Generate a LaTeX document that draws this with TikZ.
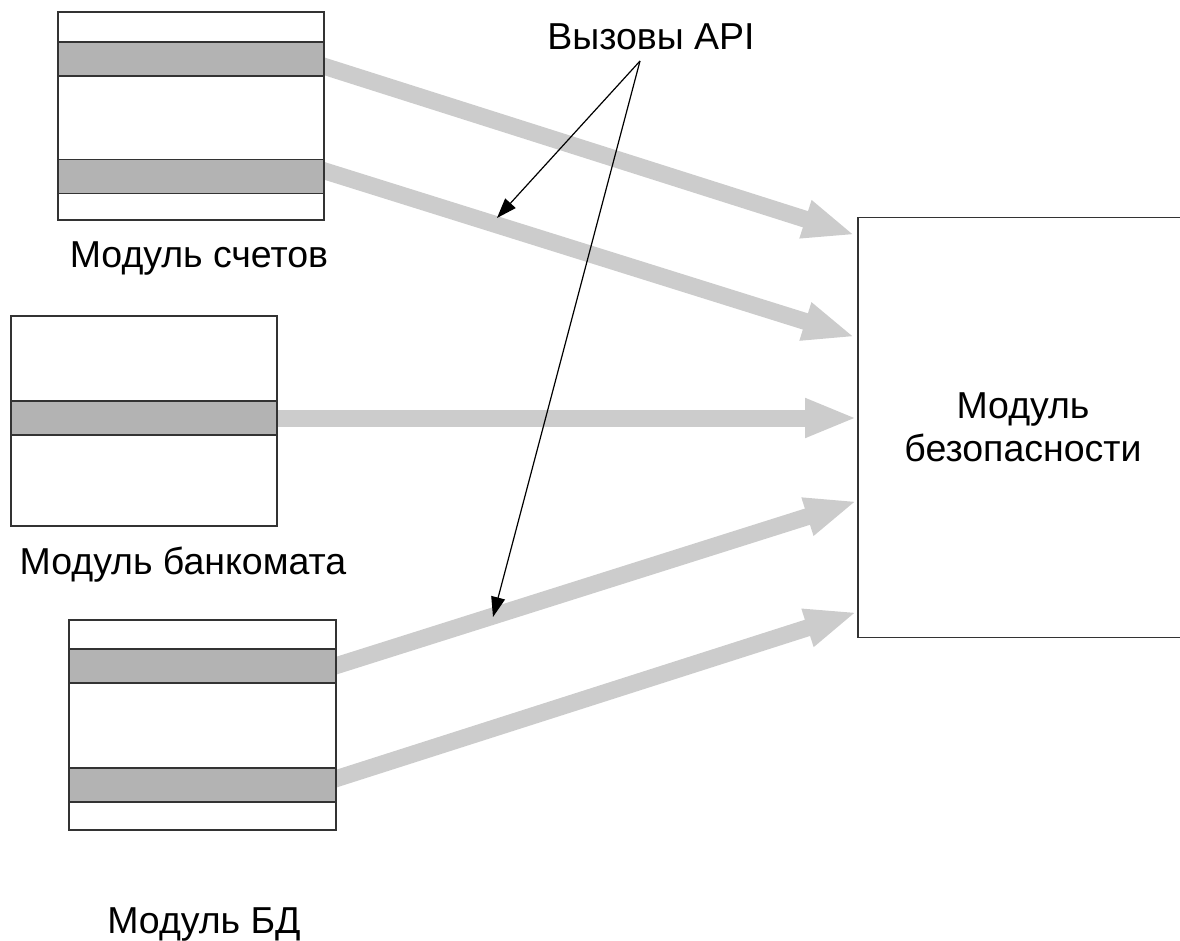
\documentclass[tikz,border=0pt]{standalone}
\usepackage{fontspec}
\setmainfont{Liberation Sans}
\usetikzlibrary{arrows.meta,calc}
\pgfdeclarelayer{background}
\pgfsetlayers{background,main}
\definecolor{boxline}{HTML}{333333}
\definecolor{bandfill}{HTML}{B3B3B3}
\definecolor{flowgray}{HTML}{CCCCCC}
\tikzset{
  modbox/.style={draw=boxline, line width=1.5pt, fill=white, inner sep=0pt, outer sep=0pt},
  band/.style={draw=boxline, line width=1.5pt, fill=bandfill, inner sep=0pt, outer sep=0pt,
    minimum height=34pt},
  caption/.style={anchor=base, inner sep=0pt, font=\fontsize{37.5}{44}\selectfont},
  flow/.style={draw=flowgray, line width=17pt,
    -{Triangle[length=52pt,width=36pt,fill=flowgray]}},
  callout/.style={draw=black, line width=1.2pt,
    -{Triangle[length=20pt,width=14pt]}}
}
\begin{document}
\begin{tikzpicture}[x=1pt,y=-1pt]
\useasboundingbox (0,0) rectangle (1180,941);
\clip (0,0) rectangle (1180,941);

% account module
\node[modbox, minimum width=266pt, minimum height=208pt] (acc) at (191,116) {};
\node[band, minimum width=266pt] (acc1) at (191,59) {};
\node[band, minimum width=266pt] (acc2) at (191,176.5) {};
\node[caption] (acclbl) at (199,268) {Модуль счетов};

% ATM module
\node[modbox, minimum width=266pt, minimum height=210pt] (atm) at (144,421) {};
\node[band, minimum width=266pt] (atm1) at (144,418) {};
\node[caption] (atmlbl) at (183,574) {Модуль банкомата};

% database module
\node[modbox, minimum width=267pt, minimum height=210pt] (db) at (202.5,725) {};
\node[band, minimum width=267pt] (db1) at (202.5,666) {};
\node[band, minimum width=267pt] (db2) at (202.5,785) {};
\node[caption] (dblbl) at (204,933) {Модуль БД};

% security module
\node[draw=boxline, line width=1.5pt, minimum width=330pt, minimum height=420pt,
  align=center, font=\fontsize{37.5}{43}\selectfont] (sec) at (1023,427.5)
  {Модуль\\безопасности};

% flow targets on the security module
\coordinate (t1) at (855,235);
\coordinate (t2) at (855,337);
\coordinate (t3) at (857,418);
\coordinate (t4) at (857,501);
\coordinate (t5) at (857,612);

\begin{pgfonlayer}{background}
  \draw[flow] ($(acc1.east)+(-4,6)$) -- (t1);
  \draw[flow] ($(acc2.east)+(-4,-7)$) -- (t2);
  \draw[flow] ($(atm1.east)+(-4,0)$) -- (t3);
  \draw[flow] ($(db1.east)+(-4,1)$) -- (t4);
  \draw[flow] ($(db2.east)+(-4,-5)$) -- (t5);
\end{pgfonlayer}

% API call annotation
\node[caption] (api) at (651,50) {Вызовы API};
\coordinate (apex) at (640,61);
\coordinate (call1) at (497,218);
\coordinate (call2) at (493,617);
\draw[callout] (apex) -- (call1);
\draw[callout] (apex) -- (call2);
\end{tikzpicture}
\end{document}
